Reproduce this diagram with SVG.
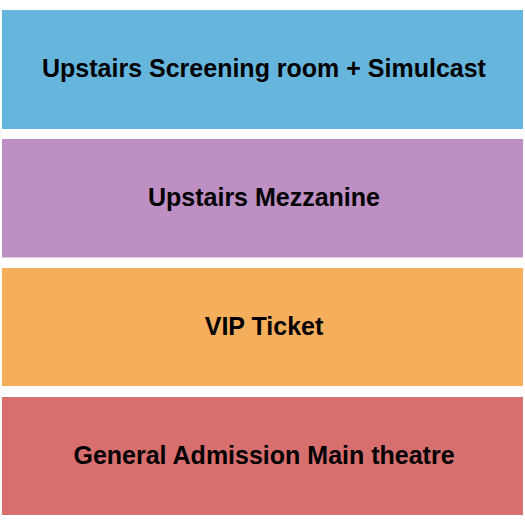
<svg xmlns="http://www.w3.org/2000/svg" width="525" height="525" viewBox="0 0 525 525">
<style>
rect{stroke:none}
text{font-family:"Liberation Sans",Arial,sans-serif;font-weight:bold;font-size:25px;fill:#000;text-anchor:middle}
</style>
<rect width="525" height="525" fill="#ffffff"/>
<g id="upstairs-screening">
<rect x="2" y="10" width="521" height="119" fill="#66b5dc"/>
<text x="264" y="77">Upstairs Screening room + Simulcast</text>
</g>
<g id="upstairs-mezzanine">
<rect x="2" y="139" width="521" height="118.5" fill="#bd8fc2"/>
<text x="264" y="206">Upstairs Mezzanine</text>
</g>
<g id="vip-ticket">
<rect x="2" y="268" width="521" height="118" fill="#f5ae5b"/>
<text x="264" y="335">VIP Ticket</text>
</g>
<g id="general-admission">
<rect x="2" y="397" width="521" height="118" fill="#d86f6f"/>
<text x="264" y="464">General Admission Main theatre</text>
</g>
<g id="connectors"/>
</svg>
